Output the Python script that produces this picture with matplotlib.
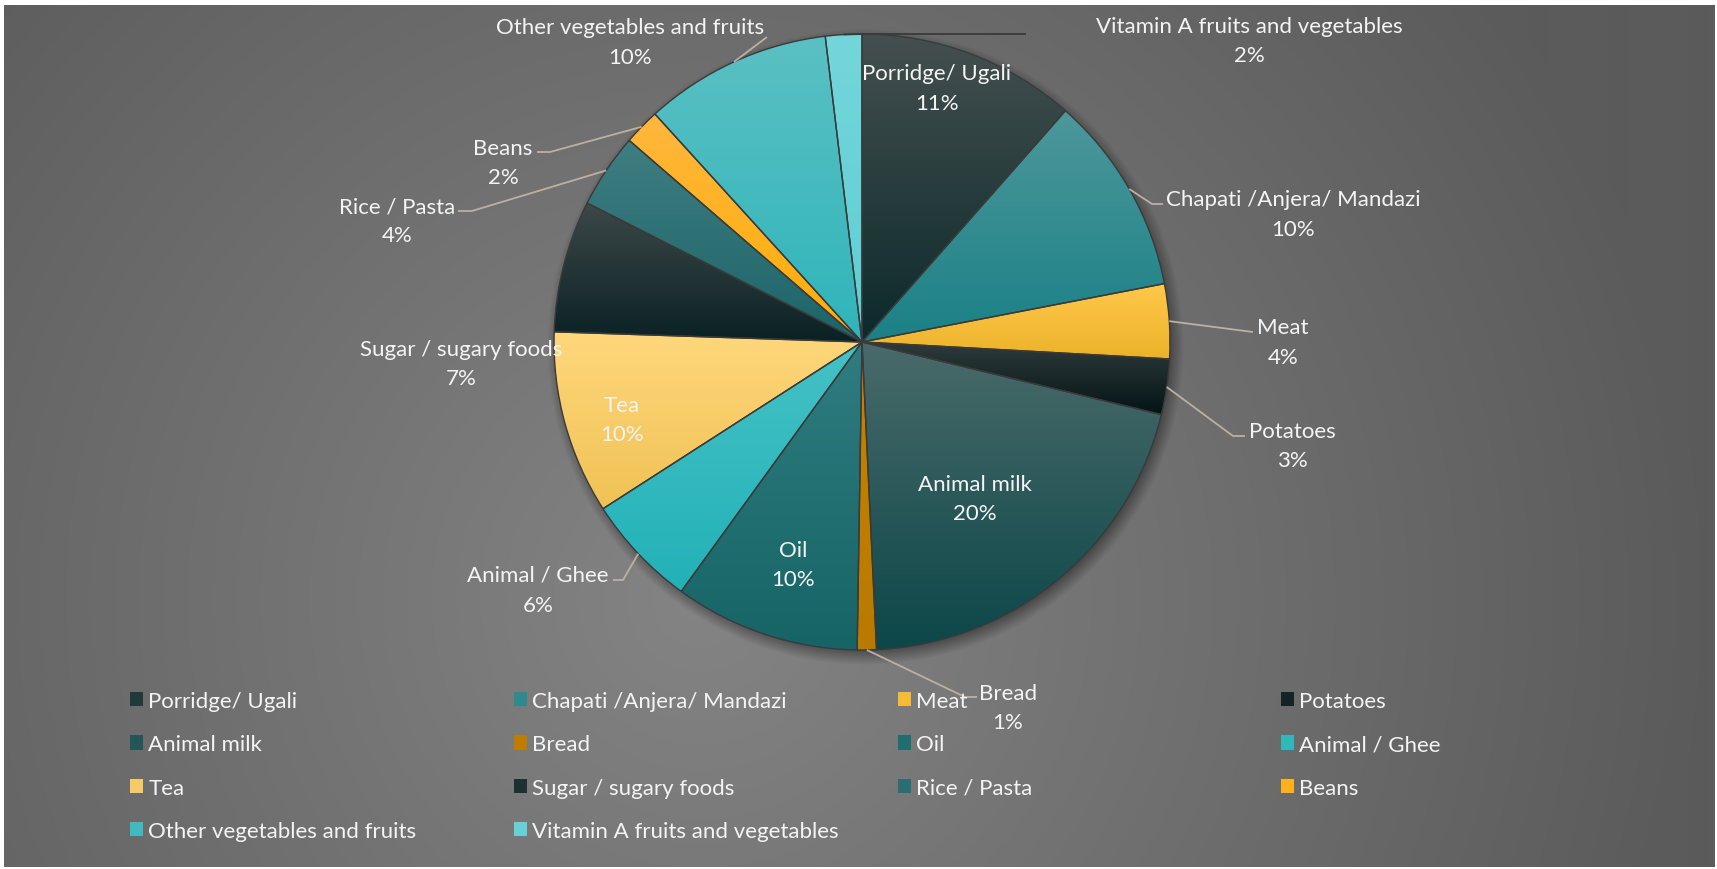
import numpy as np
import matplotlib
matplotlib.use("Agg")
import matplotlib.pyplot as plt
from matplotlib.patches import Patch
from matplotlib.legend import Legend
from matplotlib.colors import to_rgb

plt.rcParams['font.family'] = ['Lato', 'DejaVu Sans']

# ---------------- data ----------------
categories = ["Porridge/ Ugali", "Chapati /Anjera/ Mandazi", "Meat", "Potatoes",
              "Animal milk", "Bread", "Oil", "Animal / Ghee", "Tea",
              "Sugar / sugary foods", "Rice / Pasta", "Beans",
              "Other vegetables and fruits", "Vitamin A fruits and vegetables"]
shares = [11.45, 10.45, 3.9, 2.9, 20.4, 1.0, 9.7, 5.9, 9.6, 6.9, 3.9, 1.9, 9.8, 1.9]

# gradient colours of each slice (top -> bottom)
top_colors = ['#44504f', '#4d989b', '#ffc84a', '#2e3a3b', '#4a6a6a', '#c58300', '#2f7d80',
              '#45c2c6', '#ffd77c', '#3d4848', '#3f7e81', '#ffb73d', '#5bc0c3', '#74d6da']
bottom_colors = ['#0c292b', '#1a8186', '#ecb22a', '#041416', '#0c4749', '#b87a00', '#176466',
                 '#22b1b7', '#f0c255', '#0a2124', '#1c6468', '#ffad05', '#2fb5ba', '#5ccfd6']

# ---------------- layout (pixel units, y measured from top) ----------------
W, H = 1717, 870
CX, CY, R = 862, 343, 308
FS = 16
TXT = '#f4f4f4'
LEAD = '#bcb0a2'
GAP = 29.5
# (x, y of first line)
label_pos = [(937, 72), (1293, 198), (1283, 326), (1292, 430), (975, 483), (1008, 692),
             (793, 549), (538, 574), (622, 404), (461, 348), (397, 205), (503, 147),
             (630, 26), (1249, 25)]
# leader: (elbow_x, elbow_y, end_x, colour) or None
leaders = [None, (1152, 205, 1163, LEAD), (1253, 333, 1253, LEAD), (1233, 437, 1245, LEAD),
           None, (965, 698, 977, LEAD), None, (623, 581, 613, LEAD), None, None,
           (472, 212, 458, LEAD), (550, 153, 537, LEAD), (767, 38, 767, LEAD),
           (863, 35, 1026, '#3a3a3a')]

legend_cols_x = [130, 514, 898, 1281]
legend_top = 692


def Y(py):
    return H - py


fig = plt.figure(figsize=(W / 100, H / 100), dpi=100)
fig.patch.set_facecolor('white')
ax = fig.add_axes([0, 0, 1, 1])
ax.axis('off')

# background gradient
bx0, bx1, by0, by1 = 4, 1714, 6, 868
xs = np.arange(bx0, bx1) + 0.5
ys = np.arange(by0, by1) + 0.5
XX, YY = np.meshgrid(xs, ys)
d = np.hypot(XX - 700, YY - 600)
g = np.clip(d / 1000.0, 0, 1)
val = (0x84 - (0x84 - 0x5b) * g) / 255.0
ax.imshow(np.dstack([val, val, val]), extent=[bx0, bx1, Y(by1), Y(by0)], origin='upper',
          aspect='auto', zorder=0, interpolation='bilinear')

# soft shadow of the pie
blur = 10
ds = np.hypot(XX - (CX + 3), YY - (CY + 5))
alpha = 0.5 * np.clip((R + blur - ds) / (2 * blur), 0, 1)
sh = np.zeros(XX.shape + (4,))
sh[..., 3] = alpha
ax.imshow(sh, extent=[bx0, bx1, Y(by1), Y(by0)], origin='upper', aspect='auto', zorder=1,
          interpolation='bilinear')

# pie
wedges, _ = ax.pie(shares, center=(CX, Y(CY)), radius=R, startangle=90, counterclock=False,
                   wedgeprops=dict(linewidth=1.0, edgecolor='#3a3a3a'), frame=True)

n = 256
t = np.linspace(0, 1, n)[:, None]
for w, ct, cb in zip(wedges, top_colors, bottom_colors):
    ext = w.get_path().get_extents()
    c1 = np.array(to_rgb(ct))
    c2 = np.array(to_rgb(cb))
    arr = (c1[None, :] * (1 - t) + c2[None, :] * t)[:, None, :]
    im = ax.imshow(arr, extent=[ext.x0, ext.x1, ext.y0, ext.y1], origin='upper',
                   aspect='auto', zorder=2, interpolation='bilinear')
    im.set_clip_path(w)
    w.set_facecolor('none')
    w.set_zorder(3)

total = sum(shares)
for i, (w, cat, v) in enumerate(zip(wedges, categories, shares)):
    pct = round(v / total * 100)
    x, y1 = label_pos[i]
    ax.text(x, Y(y1 + 2), cat, ha='center', va='center', fontsize=FS, color=TXT, zorder=6)
    ax.text(x, Y(y1 + GAP + 2), f"{pct}%", ha='center', va='center', fontsize=FS, color=TXT,
            zorder=6)
    ld = leaders[i]
    if ld is not None:
        th = np.deg2rad((w.theta1 + w.theta2) / 2)
        sx = CX + R * np.cos(th)
        sy = Y(CY) + R * np.sin(th)
        ex, ey, endx, col = ld
        ax.plot([sx, ex, endx], [sy, Y(ey), Y(ey)], color=col, lw=1.3, zorder=5,
                solid_capstyle='butt')

# legend: 4 columns, items in row-major order
for c in range(4):
    idx = [i for i in range(len(categories)) if i % 4 == c]
    handles = [Patch(facecolor=tuple(0.4 * np.array(to_rgb(top_colors[i])) +
                                     0.6 * np.array(to_rgb(bottom_colors[i]))),
                     edgecolor='none') for i in idx]
    leg = Legend(ax, handles, [categories[i] for i in idx], loc='upper left',
                 bbox_to_anchor=(legend_cols_x[c], Y(legend_top)), bbox_transform=ax.transData,
                 frameon=False, fontsize=FS, handlelength=0.58, handleheight=0.63,
                 handletextpad=0.25, labelspacing=1.05, borderpad=0, borderaxespad=0,
                 labelcolor=TXT)
    leg.set_zorder(6)
    ax.add_artist(leg)

ax.set_xlim(0, W)
ax.set_ylim(0, H)
ax.set_aspect('auto')
fig.savefig('out.png', dpi=100, facecolor='white')
